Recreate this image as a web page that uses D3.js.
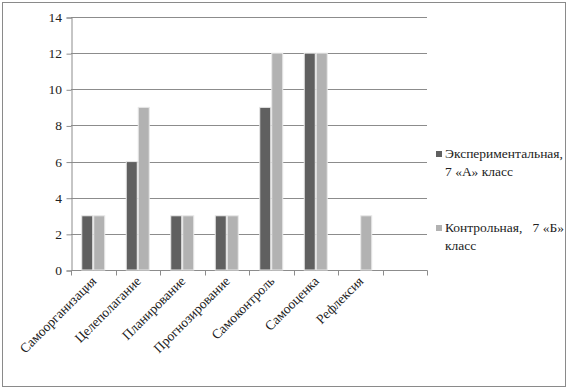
<html><head><meta charset="utf-8"><script src="https://cdn.jsdelivr.net/npm/d3@7"></script></head>
<body style="margin:0">
<svg width="568" height="390"></svg>
<script>
// categories (last band is empty in the original)
const categories = ['Самоорганизация', 'Целеполагание', 'Планирование', 'Прогнозирование',
  'Самоконтроль', 'Самооценка', 'Рефлексия', '']
const seriesNames = [['Экспериментальная,', '7 «А» класс'], ['Контрольная,   7 «Б»', 'класс']]
const expValues = [3, 6, 3, 3, 9, 12, 0, null]
const ctrlValues = [3, 9, 3, 3, 12, 12, 3, null]
const yTicks = [0, 2, 4, 6, 8, 10, 12, 14]

const colours = ['#606060', '#b2b2b2']
const serif = '"Liberation Serif"'
const fontSize = '13.5px'

const svg = d3.select('svg')

// outer frame
svg.append('rect')
  .attr('x', 2.5).attr('y', 2.5)
  .attr('width', 563).attr('height', 384)
  .attr('fill', '#fff')
  .attr('stroke', '#8a8a8a')

const plotL = 71, plotR = 427, plotT = 17, plotB = 270

const x = d3.scaleBand()
  .domain(d3.range(categories.length))
  .range([plotL, plotR])

const y = d3.scaleLinear()
  .domain([0, 14])
  .range([plotB, plotT])

// gridlines
svg.append('g')
  .selectAll('line')
  .data(yTicks.filter(d => d > 0))
  .enter()
  .append('line')
  .attr('x1', plotL).attr('x2', plotR)
  .attr('y1', d => Math.round(y(d)) + 0.5)
  .attr('y2', d => Math.round(y(d)) + 0.5)
  .attr('stroke', '#8c8c8c')

// y axis: lines from d3.axisLeft, labels appended straight onto the svg
const yAxis = svg.append('g')
  .attr('transform', `translate(${plotL + 0.5},0.5)`)
  .call(d3.axisLeft(y).tickValues(yTicks).tickSize(5).tickFormat(''))
yAxis.selectAll('path, line').attr('stroke', '#8c8c8c')

yTicks.forEach(v => {
  svg.append('text')
    .attr('x', plotL - 9)
    .attr('y', y(v) + 5)
    .attr('text-anchor', 'end')
    .attr('fill', '#222')
    .style('font-family', serif)
    .style('font-size', fontSize)
    .text(v)
})

// x axis with ticks at band boundaries
const xAxis = svg.append('g')
  .attr('transform', `translate(0.5,${plotB + 0.5})`)
xAxis.append('line')
  .attr('x1', plotL).attr('x2', plotR)
  .attr('stroke', '#8c8c8c')
xAxis.selectAll('.tk')
  .data(d3.range(categories.length + 1))
  .enter()
  .append('line')
  .attr('x1', i => Math.round(plotL + i * x.step()))
  .attr('x2', i => Math.round(plotL + i * x.step()))
  .attr('y1', 0).attr('y2', 5)
  .attr('stroke', '#8c8c8c')

// rotated category labels
categories.forEach((c, i) => {
  svg.append('text')
    .attr('transform', `translate(${x(i) + x.bandwidth() / 2 + 4},${plotB + 12}) rotate(-45)`)
    .attr('text-anchor', 'end')
    .attr('fill', '#222')
    .style('font-family', serif)
    .style('font-size', fontSize)
    .text(c)
})

// bars
const barW = 11
const series = [expValues, ctrlValues]
series.forEach((vals, s) => {
  svg.append('g')
    .selectAll('rect')
    .data(vals.map((v, i) => ({ v, i })).filter(d => d.v))
    .enter()
    .append('rect')
    .attr('x', d => x(d.i) + x.bandwidth() / 2 - barW - 0.5 + s * (barW + 1))
    .attr('y', d => y(d.v))
    .attr('width', barW)
    .attr('height', d => plotB - y(d.v))
    .attr('fill', colours[s])
    .attr('stroke', '#e8e8e8')
    .attr('stroke-width', 1)
})

// legend
const legendY = [158, 232]
seriesNames.forEach((lines, s) => {
  svg.append('rect')
    .attr('x', 436).attr('y', legendY[s] - 7)
    .attr('width', 6).attr('height', 6)
    .attr('fill', colours[s])
  lines.forEach((line, j) => {
    svg.append('text')
      .attr('x', 445)
      .attr('y', legendY[s] + j * 18)
      .attr('fill', '#222')
      .style('font-family', serif)
      .style('font-size', fontSize)
      .style('white-space', 'pre')
      .text(line)
  })
})
</script></body></html>
